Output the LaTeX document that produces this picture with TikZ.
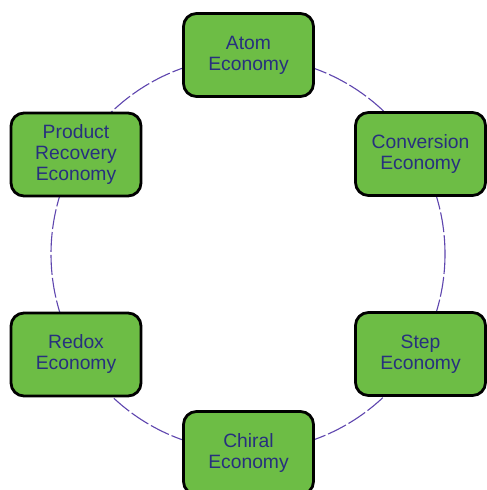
\documentclass[tikz,border=0pt]{standalone}
\usepackage{fontspec}
\setmainfont{Liberation Sans}
\definecolor{boxgreen}{HTML}{6DBD45}
\definecolor{txtblue}{HTML}{27307E}
\definecolor{ringcol}{HTML}{5E45AE}
\begin{document}
\begin{tikzpicture}[x=1pt,y=-1pt,
  econ/.style={draw=black, line width=2.8pt, fill=boxgreen, rounded corners=13pt,
    minimum width=130pt, minimum height=83pt, inner sep=0pt, align=center,
    text=txtblue, font=\fontsize{19.3}{21}\selectfont},
  ring/.style={draw=ringcol, line width=1.1pt, dash pattern=on 20pt off 3pt}]
\useasboundingbox (0,0) rectangle (487,490);
\coordinate (ctr) at (248,254);
\draw[ring] (ctr) circle[radius=197];
\node[econ] (atom) at (248.5,55) {Atom\\Economy};
\node[econ] (conv) at (420.5,154) {Conversion\\Economy};
\node[econ] (step) at (420.5,354) {Step\\Economy};
\node[econ] (chiral) at (248.5,453) {Chiral\\Economy};
\node[econ] (redox) at (76,354.5) {Redox\\Economy};
\node[econ] (prod) at (76,154.5) {Product\\Recovery\\Economy};
\end{tikzpicture}
\end{document}
